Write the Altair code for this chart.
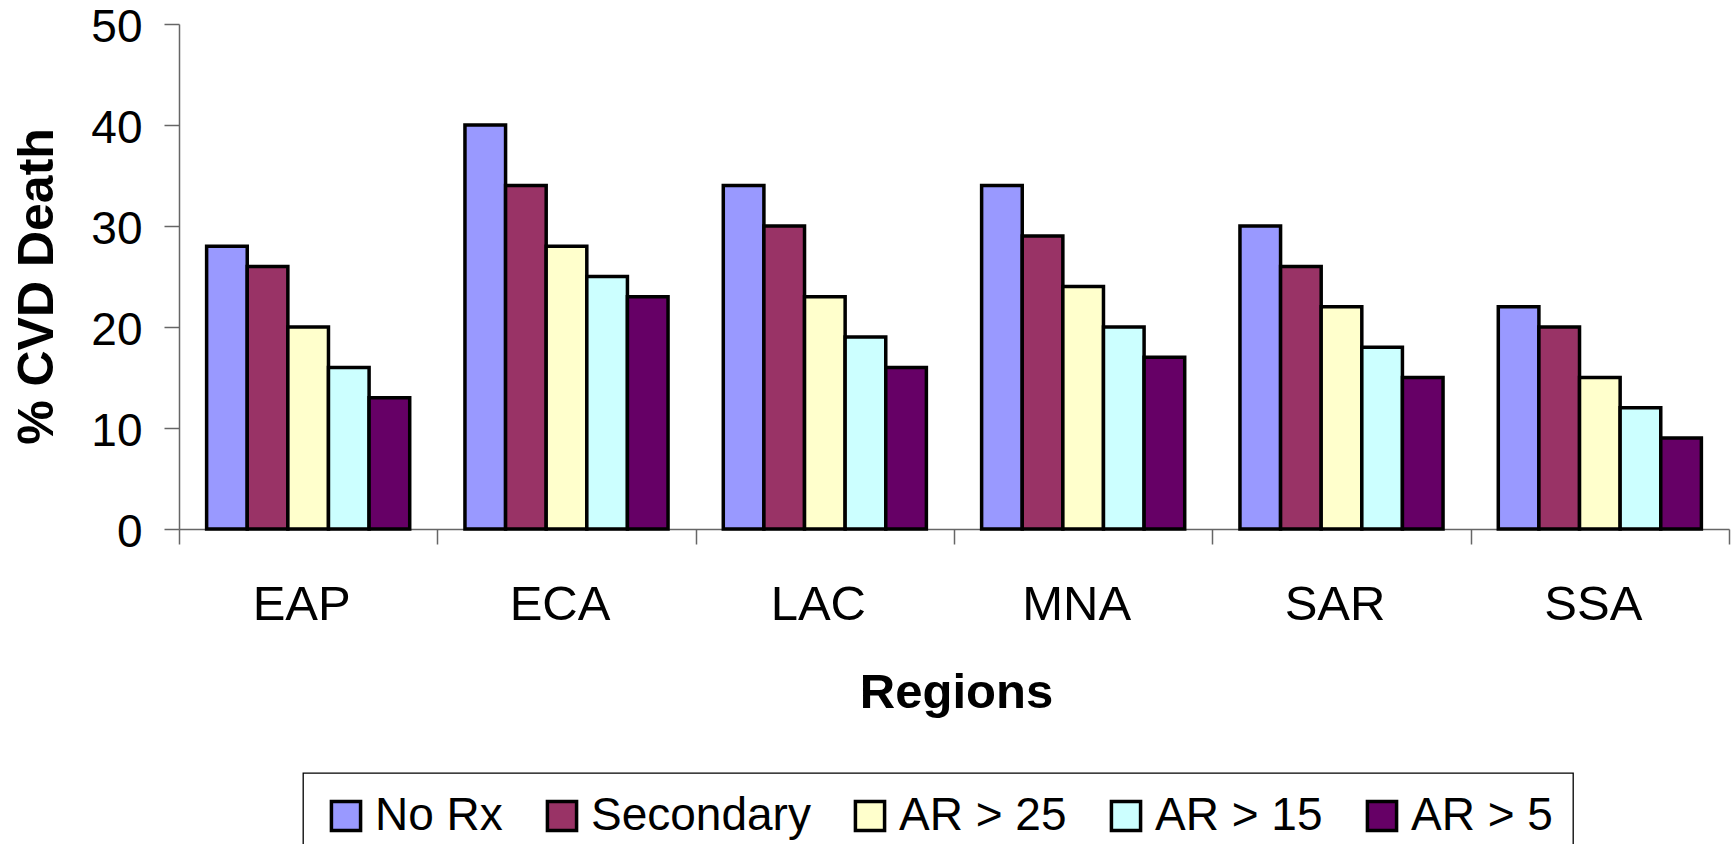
import altair as alt
import pandas as pd

# Regions on the x axis, treatment scenarios as grouped bars
regions = ["EAP", "ECA", "LAC", "MNA", "SAR", "SSA"]
scenarios = ["No Rx", "Secondary", "AR > 25", "AR > 15", "AR > 5"]
colors = ["#9999FF", "#993366", "#FFFFCC", "#CCFFFF", "#660066"]

# % CVD death per region, one list per scenario
no_rx = [28, 40, 34, 34, 30, 22]
secondary = [26, 34, 30, 29, 26, 20]
ar_25 = [20, 28, 23, 24, 22, 15]
ar_15 = [16, 25, 19, 20, 18, 12]
ar_5 = [13, 23, 16, 17, 15, 9]

y_ticks = [0, 10, 20, 30, 40, 50]

series = [no_rx, secondary, ar_25, ar_15, ar_5]
df = pd.DataFrame(
    [
        {"Region": r, "Scenario": s, "Pct": v}
        for s, vals in zip(scenarios, series)
        for r, v in zip(regions, vals)
    ]
)

FONT = "Liberation Sans, Arial, sans-serif"
NARROW = "Liberation Sans Narrow, Arial Narrow, Liberation Sans, sans-serif"
AXIS_GRAY = "#666666"

chart = (
    alt.Chart(df)
    .mark_bar(stroke="black", strokeWidth=3.5)
    .encode(
        x=alt.X(
            "Region:N",
            sort=regions,
            scale=alt.Scale(paddingInner=0, paddingOuter=0),
            axis=alt.Axis(
                title="Regions",
                labelAngle=0,
                tickBand="extent",
                tickSize=15,
                tickColor=AXIS_GRAY,
                tickWidth=1.5,
                domainColor=AXIS_GRAY,
                domainWidth=1.5,
                labelFont=FONT,
                labelFontSize=49,
                labelColor="black",
                labelPadding=36,
                labelOffset=-7,
                titleFont=FONT,
                titleFontSize=49,
                titleFontWeight="bold",
                titleColor="black",
                titleX=777,
                titleY=178,
                titleBaseline="alphabetic",
                titleAlign="center",
            ),
        ),
        xOffset=alt.XOffset(
            "Scenario:N",
            sort=scenarios,
            scale=alt.Scale(paddingInner=0, paddingOuter=0.68),
        ),
        y=alt.Y(
            "Pct:Q",
            scale=alt.Scale(domain=[0, 50], nice=False),
            axis=alt.Axis(
                title="% CVD Death",
                values=y_ticks,
                grid=False,
                tickSize=15,
                tickColor=AXIS_GRAY,
                tickWidth=1.5,
                domainColor=AXIS_GRAY,
                domainWidth=1.5,
                labelFont=NARROW,
                labelFontSize=46,
                labelColor="black",
                labelPadding=22,
                labelOffset=3,
                titleFont=FONT,
                titleFontSize=50,
                titleFontWeight="bold",
                titleColor="black",
                titleAngle=270,
                titleX=-127,
                titleY=262,
                titleBaseline="alphabetic",
                titleAlign="center",
            ),
        ),
        color=alt.Color(
            "Scenario:N",
            sort=scenarios,
            scale=alt.Scale(domain=scenarios, range=colors),
            legend=alt.Legend(
                title=None,
                orient="none",
                legendX=124,
                legendY=749,
                direction="horizontal",
                columns=5,
                columnPadding=36,
                padding=20,
                strokeColor="black",
                fillColor="white",
                symbolType="square",
                symbolSize=850,
                symbolStrokeColor="black",
                symbolStrokeWidth=3.5,
                symbolOpacity=1,
                labelFont=FONT,
                labelFontSize=46,
                labelColor="black",
                labelLimit=400,
                labelOffset=6,
            ),
        ),
    )
    .properties(
        width=1550,
        height=505,
        autosize=alt.AutoSizeParams(type="none"),
        padding={"left": 179, "top": 24, "right": 4, "bottom": 315},
    )
    .configure_view(strokeWidth=0)
    .configure_legend(strokeWidth=1.3)
)

chart.save("out.html", embed_options={"renderer": "svg", "actions": False})
